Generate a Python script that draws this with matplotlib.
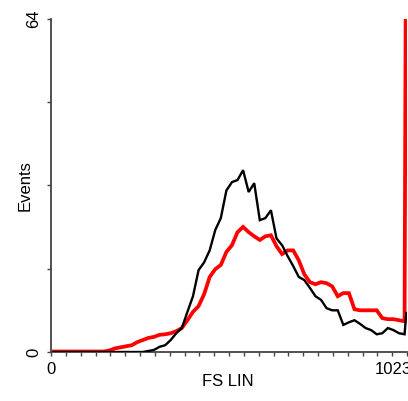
import numpy as np
import matplotlib
matplotlib.use("Agg")
import matplotlib.pyplot as plt
from matplotlib.transforms import ScaledTranslation

# Histogram channel centres (16-channel bins over 0..1023) plus the final overflow channel
channels = [8 + 16 * i for i in range(64)] + [1021]

black_counts = [
    0, 0, 0, 0, 0, 0, 0, 0, 0, 0,
    0, 0, 0, 0, 0, 0, 0, 0.2, 0.4, 1.0,
    1.3, 2.3, 3.6, 4.6, 7.7, 10.7, 15.7, 17.2, 19.5, 23.4,
    25.7, 31.0, 32.6, 33.0, 34.9, 30.7, 32.4, 25.3, 25.7, 27.2,
    21.8, 20.5, 18.4, 16.5, 14.4, 13.8, 12.3, 10.7, 10.0, 8.4,
    8.0, 8.0, 5.2, 5.7, 6.1, 5.4, 4.6, 4.2, 3.4, 3.6,
    4.6, 4.2, 3.6, 3.4,
    7.5,
]

red_counts = [
    0.1, 0.1, 0.1, 0.1, 0.1, 0.1, 0.1, 0.1, 0.1, 0.1,
    0.3, 0.7, 0.9, 1.1, 1.3, 1.9, 2.3, 2.7, 2.9, 3.3,
    3.4, 3.6, 4.0, 4.6, 6.1, 7.7, 8.8, 11.1, 14.4, 15.9,
    16.7, 19.2, 20.5, 23.0, 24.0, 23.0, 22.2, 21.5, 22.2, 22.4,
    20.3, 18.8, 19.5, 19.5, 17.6, 14.9, 13.4, 13.0, 13.4, 13.2,
    12.6, 10.7, 11.3, 11.3, 8.2, 8.0, 8.0, 8.0, 8.0, 6.5,
    6.3, 6.3, 6.1, 5.9,
    100,
]

x_tick_values = list(np.linspace(0, 1023, 25))
x_tick_labels = ["0"] + [""] * 23 + ["1023"]
y_tick_values = [0, 16, 32, 48, 64]
y_tick_labels = ["0", "", "", "", "64"]

FAM = ['Liberation Sans', 'DejaVu Sans']
plt.rcParams['font.family'] = FAM

W, H = 408, 401
fig = plt.figure(figsize=(W / 100, H / 100), dpi=100)
ax = fig.add_axes([51 / W, (H - 352) / H, 356 / W, 333.5 / H])

ax.plot(channels, red_counts, color='#ff0000', lw=2.7, zorder=2, solid_joinstyle='miter')
ax.plot(channels, black_counts, color='black', lw=1.7, zorder=3, solid_joinstyle='miter')

ax.set_xlim(0, 1023)
ax.set_ylim(0, 64)

for s in ['top', 'right']:
    ax.spines[s].set_visible(False)
for s in ['left', 'bottom']:
    ax.spines[s].set_color('#444444')
    ax.spines[s].set_linewidth(1.3)

ax.set_xticks(x_tick_values)
ax.set_xticklabels(x_tick_labels, fontsize=12)
ax.set_yticks(y_tick_values)
ax.set_yticklabels(y_tick_labels, fontsize=12, rotation=90, va='center')
ax.tick_params(axis='x', length=3, width=1, color='#444444', pad=4)
ax.tick_params(axis='y', length=3, width=1, color='#444444', pad=4)

# the right-most label sits slightly left of its tick, as in the reference
last = ax.get_xticklabels()[-1]
last.set_transform(last.get_transform() + ScaledTranslation(-14 / 100, 0, fig.dpi_scale_trans))

fig.text(25 / W, 1 - 186 / H, "Events", rotation=90, ha='center', va='center', fontsize=12)
fig.text(228 / W, 1 - 382 / H, "FS LIN", ha='center', va='center', fontsize=12)

fig.savefig("out.png", dpi=100)
